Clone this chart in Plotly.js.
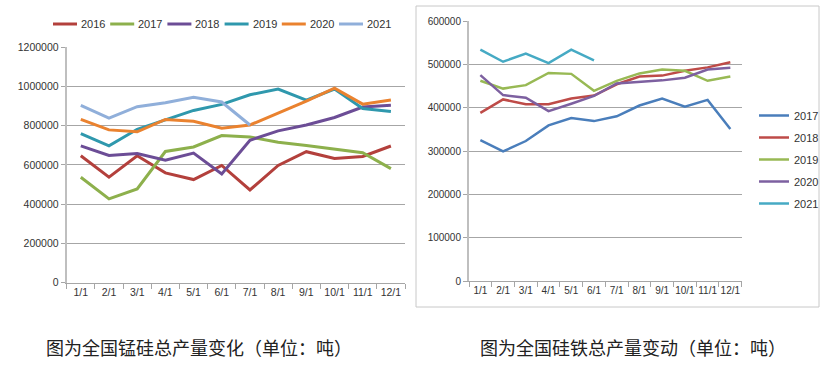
<!DOCTYPE html>
<html>
<head>
<meta charset="utf-8">
<script src="https://cdn.plot.ly/plotly-3.0.1.min.js"></script>
<style>
  html, body { margin: 0; padding: 0; background: #ffffff; }
  #chart { width: 834px; height: 372px; }
</style>
</head>
<body>
<div id="chart"></div>
<script>
// ---------- Data ----------
const months = ["1/1","2/1","3/1","4/1","5/1","6/1","7/1","8/1","9/1","10/1","11/1","12/1"];

// Left chart: 全国锰硅总产量 (吨)
const mnSi2016 = [646000, 537000, 646000, 559000, 525000, 597000, 472000, 597000, 667000, 632000, 643000, 696000];
const mnSi2017 = [537000, 427000, 477000, 668000, 691000, 749000, 742000, 715000, 699000, 682000, 662000, 581000];
const mnSi2018 = [697000, 648000, 658000, 624000, 660000, 554000, 725000, 773000, 803000, 841000, 894000, 903000];
const mnSi2019 = [759000, 697000, 781000, 827000, 877000, 908000, 957000, 986000, 930000, 986000, 887000, 872000];
const mnSi2020 = [832000, 778000, 768000, 831000, 822000, 786000, 803000, 863000, 925000, 990000, 909000, 930000];
const mnSi2021 = [903000, 838000, 896000, 916000, 944000, 920000, 803000];

// Right chart: 全国硅铁总产量 (吨)
const feSi2017 = [325000, 299000, 323000, 359000, 376000, 369000, 380000, 405000, 421000, 402000, 418000, 351000];
const feSi2018 = [388000, 419000, 408000, 408000, 421000, 428000, 454000, 472000, 474000, 485000, 493000, 505000];
const feSi2019 = [462000, 444000, 452000, 480000, 478000, 439000, 462000, 479000, 488000, 485000, 462000, 472000];
const feSi2020 = [475000, 429000, 423000, 392000, 409000, 427000, 456000, 460000, 463000, 469000, 488000, 492000];
const feSi2021 = [534000, 506000, 525000, 503000, 534000, 509000];

const leftNames = ["2016","2017","2018","2019","2020","2021"];
const rightNames = ["2017","2018","2019","2020","2021"];

const leftCaption = "图为全国锰硅总产量变化（单位：吨）";
const rightCaption = "图为全国硅铁总产量变动（单位：吨）";

// ---------- Styles ----------
const leftColors = ["#b3403c", "#8db04c", "#6c4d96", "#2f98ad", "#ea822f", "#90afda"];
const rightColors = ["#4a7ebb", "#be4b48", "#98b954", "#7d60a0", "#46aac4"];

const leftSeries = [mnSi2016, mnSi2017, mnSi2018, mnSi2019, mnSi2020, mnSi2021];
const rightSeries = [feSi2017, feSi2018, feSi2019, feSi2020, feSi2021];

const traces = [];
leftSeries.forEach((vals, i) => {
  traces.push({
    type: "scatter", mode: "lines",
    x: months.slice(0, vals.length), y: vals,
    name: leftNames[i],
    xaxis: "x", yaxis: "y",
    line: { color: leftColors[i], width: 3 },
    showlegend: false,
    hoverinfo: "skip"
  });
});
rightSeries.forEach((vals, i) => {
  traces.push({
    type: "scatter", mode: "lines",
    x: months.slice(0, vals.length), y: vals,
    name: rightNames[i],
    xaxis: "x2", yaxis: "y2",
    line: { color: rightColors[i], width: 2.5 },
    legend: "legend2",
    legendgroup: "g" + i,
    hoverinfo: "skip"
  });
});

const W = 834, H = 372;
const px = v => v / W;
const py = v => (H - v) / H;

const gridColor = "#a6a6a6";
const tickFont = { family: "Liberation Sans, Arial, sans-serif", size: 10.5, color: "#333333" };
const tickFont2 = { family: "Liberation Sans, Arial, sans-serif", size: 10, color: "#333333" };

// Horizontal legend for the left chart (drawn as paper-space swatches + labels,
// because Plotly's built-in horizontal legend cannot be packed this tightly)
const legShapes = [];
const legAnn = [];
const legX0 = 53, legStep = 57.2, legY = 24, legLine = 24;
leftNames.forEach((nm, i) => {
  const x0 = legX0 + i * legStep;
  legShapes.push({
    type: "line", xref: "paper", yref: "paper",
    x0: px(x0), x1: px(x0 + legLine), y0: py(legY), y1: py(legY),
    line: { color: leftColors[i], width: 3 }
  });
  legAnn.push({
    xref: "paper", yref: "paper", x: px(x0 + legLine + 2), y: py(legY),
    xanchor: "left", yanchor: "middle", showarrow: false,
    text: nm,
    font: { family: "Liberation Sans, Arial, sans-serif", size: 11, color: "#333333" }
  });
});

const layout = {
  width: W, height: H,
  margin: { l: 0, r: 0, t: 0, b: 0 },
  paper_bgcolor: "#ffffff",
  plot_bgcolor: "rgba(0,0,0,0)",
  showlegend: true,
  xaxis: {
    domain: [px(66.7), px(405)],
    type: "category", categoryorder: "array", categoryarray: months,
    range: [-0.5, 11.5],
    showgrid: false, zeroline: false,
    showline: true, linecolor: gridColor, linewidth: 1,
    ticks: "outside", tickson: "boundaries", ticklen: 5, tickcolor: gridColor,
    tickangle: 0,
    tickfont: tickFont, fixedrange: true
  },
  yaxis: {
    domain: [py(282.7), py(47)],
    range: [0, 1200000], dtick: 200000,
    showgrid: true, gridcolor: gridColor, gridwidth: 1,
    zeroline: false,
    showline: true, linecolor: "#bfbfbf", linewidth: 2,
    ticks: "outside", ticklen: 4, tickcolor: gridColor,
    tickformat: "d",
    tickfont: tickFont, fixedrange: true
  },
  xaxis2: {
    domain: [px(469), px(741.7)],
    anchor: "y2",
    type: "category", categoryorder: "array", categoryarray: months,
    range: [-0.5, 11.5],
    showgrid: false, zeroline: false,
    showline: true, linecolor: gridColor, linewidth: 1,
    ticks: "outside", tickson: "boundaries", ticklen: 5, tickcolor: gridColor,
    tickangle: 0,
    tickfont: tickFont2,
    fixedrange: true
  },
  yaxis2: {
    domain: [py(281), py(21)],
    anchor: "x2",
    range: [0, 600000], dtick: 100000,
    showgrid: true, gridcolor: gridColor, gridwidth: 1,
    zeroline: false,
    showline: true, linecolor: "#bfbfbf", linewidth: 2,
    ticks: "outside", ticklen: 4, tickcolor: gridColor,
    tickformat: "d",
    tickfont: tickFont2,
    fixedrange: true
  },
  legend2: {
    orientation: "v",
    x: px(754), xanchor: "left",
    y: py(101), yanchor: "top",
    font: { family: "Liberation Sans, Arial, sans-serif", size: 11, color: "#333333" },
    bgcolor: "rgba(0,0,0,0)",
    itemwidth: 30,
    traceorder: "grouped",
    tracegroupgap: 3
  },
  shapes: [
    {
      type: "rect", xref: "paper", yref: "paper",
      x0: px(416), x1: px(819), y0: py(307), y1: py(6),
      line: { color: "#c8c8c8", width: 1 }, fillcolor: "rgba(0,0,0,0)"
    }
  ].concat(legShapes),
  annotations: [
    {
      xref: "paper", yref: "paper", x: px(44), y: py(347),
      xanchor: "left", yanchor: "middle", showarrow: false,
      text: leftCaption,
      font: { family: "Noto Sans CJK SC", size: 18, color: "#222222" }
    },
    {
      xref: "paper", yref: "paper", x: px(478), y: py(347),
      xanchor: "left", yanchor: "middle", showarrow: false,
      text: rightCaption,
      font: { family: "Noto Sans CJK SC", size: 18, color: "#222222" }
    }
  ].concat(legAnn)
};

Plotly.newPlot("chart", traces, layout, { staticPlot: true, displayModeBar: false });
</script>
</body>
</html>
